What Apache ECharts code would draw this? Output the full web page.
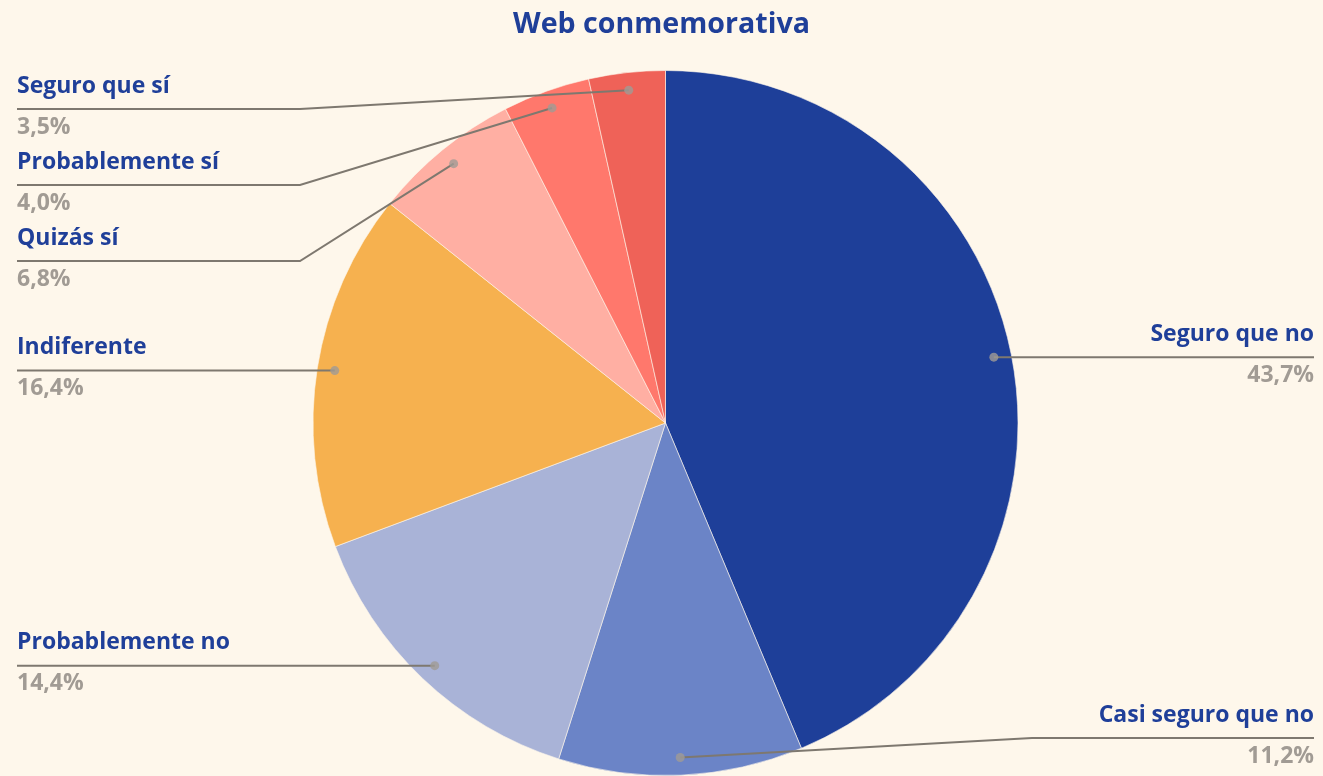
<!DOCTYPE html>
<html>
<head>
<meta charset="utf-8">
<script src="https://cdn.jsdelivr.net/npm/echarts@6/dist/echarts.min.js"></script>
<style>
html,body{margin:0;padding:0;background:#FEF7EB;}
#chart{width:1323px;height:776px;}
</style>
</head>
<body>
<div id="chart"></div>
<script>
// ---- data ----
const titleText = 'Web conmemorativa';
const categories = ['Seguro que no', 'Casi seguro que no', 'Probablemente no', 'Indiferente', 'Quizás sí', 'Probablemente sí', 'Seguro que sí'];
const values = [43.7, 11.2, 14.4, 16.4, 6.8, 4.0, 3.5];

// ---- styles / layout ----
const sliceColors = ['#1E3F99', '#6B84C7', '#A9B3D7', '#F6B14F', '#FFAFA3', '#FF786C', '#EF6258'];
const CENTER = [665.5, 423];
const RADIUS = 352.5;
const DOT_R = 0.95;
const LEFT_X = 17, RIGHT_X = 1314;
// side of label, y of horizontal leader (null = same as dot), x of elbow (null = straight)
const labelSides = ['right', 'right', 'left', 'left', 'left', 'left', 'left'];
const leaderY = [null, 738, null, null, 261, 185, 109];
const elbowX = [null, 1032, null, null, 300, 300, 300];

const FONT = '"Open Sans"';
const total = values.reduce((a, b) => a + b, 0);
const mids = [];
let acc = 0;
values.forEach(v => { mids.push(acc + v / 2); acc += v; });

const fmt = v => v.toFixed(1).replace('.', ',') + '%';
const pieData = categories.map((c, i) => ({ name: c, value: values[i] }));

const chart = echarts.init(document.getElementById('chart'));
chart.setOption({
  backgroundColor: '#FEF7EB',
  title: {
    text: titleText,
    left: 'center',
    top: 5,
    textStyle: { color: '#1F3F99', fontFamily: FONT, fontWeight: 'bold', fontSize: 28.6 }
  },
  polar: { center: CENTER, radius: RADIUS },
  angleAxis: { type: 'value', min: 0, max: total, startAngle: 90, clockwise: true, show: false },
  radiusAxis: { type: 'value', min: 0, max: 1, show: false },
  series: [
    {
      type: 'pie',
      z: 2,
      center: CENTER,
      radius: RADIUS,
      startAngle: 90,
      clockwise: true,
      animation: false,
      silent: true,
      itemStyle: { borderColor: '#FEF7EB', borderWidth: 0.6 },
      data: pieData.map((d, i) => ({ name: d.name, value: d.value, itemStyle: { color: sliceColors[i] } })),
      label: { show: false },
      labelLine: { show: false }
    },
    {
      type: 'pie',
      z: 5,
      center: CENTER,
      radius: RADIUS,
      startAngle: 90,
      clockwise: true,
      avoidLabelOverlap: false,
      animation: false,
      silent: true,
      itemStyle: { color: 'rgba(0,0,0,0)', borderWidth: 0 },
      data: pieData,
      label: {
        show: true,
        position: 'outside',
        formatter: p => '{n|' + p.name + '}\n{v|' + fmt(p.value) + '}',
        rich: {
          n: { color: '#1F3F99', fontFamily: FONT, fontWeight: 'bold', fontSize: 23, lineHeight: 50 },
          v: { color: '#A19B94', fontFamily: FONT, fontWeight: 'bold', fontSize: 23, lineHeight: 32 }
        }
      },
      labelLine: { show: true, lineStyle: { color: '#7E786F', width: 2 } },
      labelLayout: function (params) {
        const i = params.dataIndex;
        const p0 = params.labelLinePoints[0];
        const dot = [CENTER[0] + (p0[0] - CENTER[0]) * DOT_R, CENTER[1] + (p0[1] - CENTER[1]) * DOT_R];
        const ly = leaderY[i] == null ? dot[1] : leaderY[i];
        const side = labelSides[i];
        const endX = side === 'left' ? LEFT_X : RIGHT_X;
        const elbow = elbowX[i] == null ? [dot[0], ly] : [elbowX[i], ly];
        return {
          x: endX,
          y: ly - 48,
          align: side,
          verticalAlign: 'top',
          labelLinePoints: [dot, elbow, [endX, ly]]
        };
      }
    },
    {
      type: 'scatter',
      coordinateSystem: 'polar',
      symbol: 'circle',
      symbolSize: 9,
      z: 10,
      silent: true,
      animation: false,
      itemStyle: { color: '#A09B95' },
      data: mids.map(m => [DOT_R, m])
    }
  ]
});
</script>
</body>
</html>
